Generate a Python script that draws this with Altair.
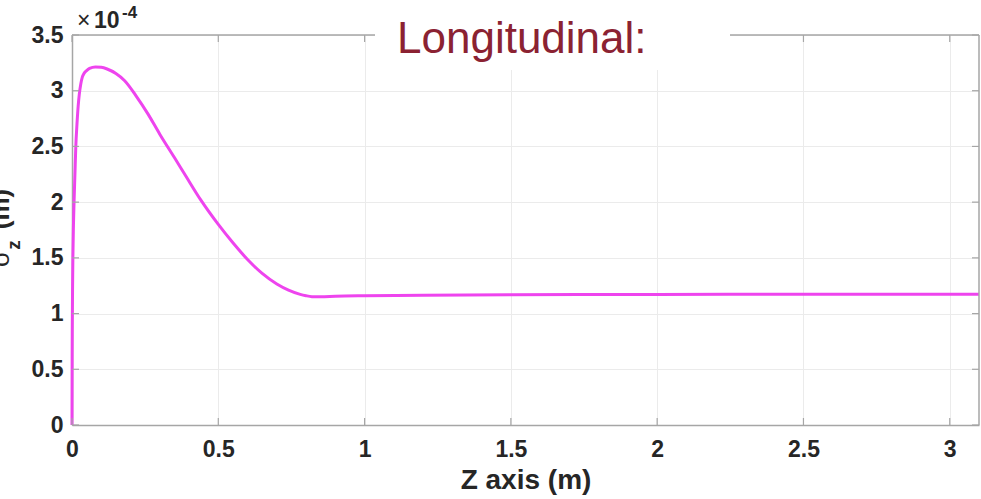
import altair as alt
import pandas as pd

# ---- data ----
z_m = [0, 0.0005, 0.001, 0.002, 0.003, 0.005, 0.007, 0.01, 0.013, 0.017, 0.021,
       0.025, 0.03, 0.035, 0.04, 0.05, 0.06, 0.08, 0.1, 0.12, 0.15, 0.18, 0.22,
       0.26, 0.3, 0.35, 0.39, 0.44, 0.5, 0.55, 0.6, 0.65, 0.7, 0.74, 0.78, 0.8,
       0.82, 0.85, 0.9, 1.0, 1.2, 1.5, 2.0, 2.5, 3.0, 3.1]
sigma_z = [0, 0.6, 0.9, 1.25, 1.5, 1.8, 2.0, 2.25, 2.5, 2.7, 2.86,
           2.97, 3.06, 3.12, 3.15, 3.18, 3.2, 3.213, 3.21, 3.195, 3.155, 3.09, 2.95,
           2.79, 2.61, 2.4, 2.23, 2.02, 1.8, 1.635, 1.485, 1.36, 1.265, 1.21, 1.172, 1.16,
           1.152, 1.15, 1.155, 1.16, 1.165, 1.17, 1.172, 1.173, 1.174, 1.174]
x_ticks = [0, 0.5, 1, 1.5, 2, 2.5, 3]
y_ticks = [0, 0.5, 1, 1.5, 2, 2.5, 3, 3.5]

W, H = 907, 390
FONT = "Liberation Sans"
BORDER = "#a6a6a6"
GRID = "#ebebeb"
LABEL = "#262626"

df = pd.DataFrame({"z": z_m, "s": sigma_z})
xt = pd.DataFrame({"z": x_ticks})
yt = pd.DataFrame({"s": y_ticks})

xscale = alt.Scale(domain=[0, 3.1], nice=False, zero=False)
yscale = alt.Scale(domain=[0, 3.5], nice=False, zero=False)

xaxis = alt.Axis(values=x_ticks, format="~g", title="Z axis (m)", grid=True, gridColor=GRID,
                 ticks=False, tickSize=0, labelPadding=13, labelFont=FONT, labelFontSize=23,
                 labelFontWeight="bold", labelColor=LABEL, labelFlush=False, labelOverlap=False,
                 labelBound=False, domainColor=BORDER, domainWidth=1.5,
                 titleFont=FONT, titleFontSize=28, titleFontWeight="bold", titleColor=LABEL,
                 titleBaseline="alphabetic", titleY=63)
yaxis = alt.Axis(values=y_ticks, format="~g", title=None, grid=True, gridColor=GRID,
                 ticks=False, tickSize=0, labelPadding=9, labelFont=FONT, labelFontSize=23,
                 labelFontWeight="bold", labelColor=LABEL, labelOverlap=False, labelBound=False,
                 domainColor=BORDER, domainWidth=1.5)


def X():
    return alt.X("z:Q", scale=xscale, axis=xaxis)


def Y():
    return alt.Y("s:Q", scale=yscale, axis=yaxis)


line = alt.Chart(df).mark_line(color="#ee44ee", strokeWidth=3, interpolate="monotone").encode(x=X(), y=Y())

top_ticks = alt.Chart(xt).mark_rule(color=BORDER, strokeWidth=1.2).encode(x=X(), y=alt.value(0), y2=alt.value(7))
bot_ticks = alt.Chart(xt).mark_rule(color=BORDER, strokeWidth=1.2).encode(x=X(), y=alt.value(H), y2=alt.value(H - 7))
left_ticks = alt.Chart(yt).mark_rule(color=BORDER, strokeWidth=1.2).encode(y=Y(), x=alt.value(0), x2=alt.value(7))
right_ticks = alt.Chart(yt).mark_rule(color=BORDER, strokeWidth=1.2).encode(y=Y(), x=alt.value(W), x2=alt.value(W - 7))

one = pd.DataFrame({"k": [0]})
right_border = alt.Chart(one).mark_rule(color=BORDER, strokeWidth=1.5).encode(
    x=alt.value(W), y=alt.value(0), y2=alt.value(H))
top_border = alt.Chart(one).mark_rule(color=BORDER, strokeWidth=1.5).encode(
    x=alt.value(0), x2=alt.value(W), y=alt.value(0))
white_box = alt.Chart(one).mark_rect(color="white").encode(
    x=alt.value(303), x2=alt.value(658), y=alt.value(-20), y2=alt.value(35))

title = alt.Chart(one).mark_text(text="Longitudinal:", font=FONT, fontSize=44, color="#8b2232",
                                 align="left", baseline="alphabetic").encode(
    x=alt.value(325), y=alt.value(18))

times = alt.Chart(one).mark_text(text="×", font=FONT, fontSize=23, color=LABEL,
                                 align="left", baseline="alphabetic").encode(x=alt.value(5), y=alt.value(-7))
ten = alt.Chart(one).mark_text(text="10", font=FONT, fontSize=23, fontWeight="bold", color=LABEL,
                               align="left", baseline="alphabetic").encode(x=alt.value(22), y=alt.value(-7))
exp = alt.Chart(one).mark_text(text="-4", font=FONT, fontSize=17, fontWeight="bold", color=LABEL,
                               align="left", baseline="alphabetic").encode(x=alt.value(50), y=alt.value(-17))

# y-axis title (mostly cut off at the left edge, as in the reference)
ysig = alt.Chart(one).mark_text(text="σ", font=FONT, fontSize=26, color=LABEL, angle=270,
                                align="center", baseline="alphabetic").encode(x=alt.value(-63), y=alt.value(224))
ysub = alt.Chart(one).mark_text(text="z", font=FONT, fontSize=19, fontWeight="bold", color=LABEL, angle=270,
                                align="center", baseline="alphabetic").encode(x=alt.value(-52), y=alt.value(210))
yunit = alt.Chart(one).mark_text(text="(m)", font=FONT, fontSize=26, fontWeight="bold", color=LABEL, angle=270,
                                 align="center", baseline="alphabetic").encode(x=alt.value(-63), y=alt.value(174))

chart = alt.layer(
    line, top_border, right_border, top_ticks, bot_ticks, left_ticks, right_ticks,
    white_box, title, times, ten, exp, ysig, ysub, yunit
).properties(
    width=W, height=H,
    autosize=alt.AutoSizeParams(type="none"),
    padding={"left": 72, "top": 35, "right": 2, "bottom": 74},
    background="white",
).configure_view(stroke=None)

chart.save("out.html", embed_options={"renderer": "svg", "actions": False})
